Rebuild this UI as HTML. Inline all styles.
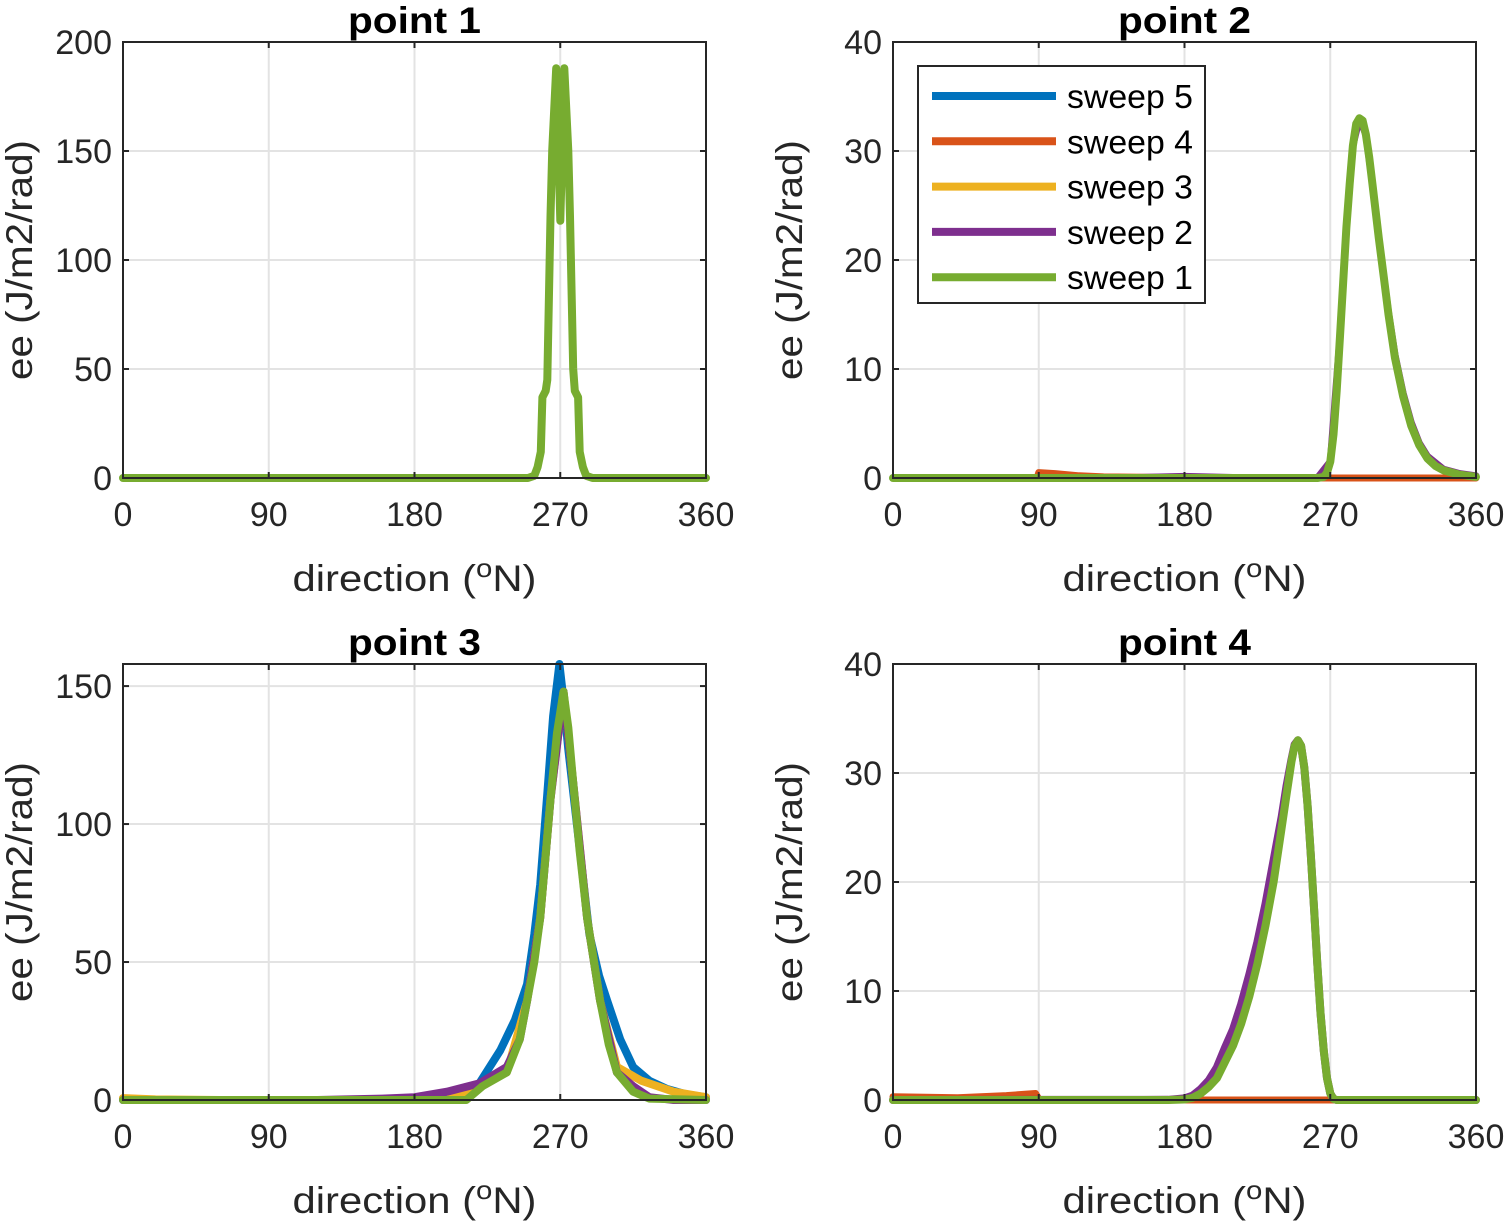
<!DOCTYPE html>
<html><head><meta charset="utf-8"><style>
body{margin:0;background:#fff;}
svg{display:block;font-family:"Liberation Sans",Arial,sans-serif;}
</style></head><body>
<svg id="chart" width="1507" height="1223" viewBox="0 0 1507 1223"></svg>
<script>
// ---------- data ----------
const xTicks=[0,90,180,270,360];
const p1YTicks=[0,50,100,150,200];
const p2YTicks=[0,10,20,30,40];
const p3YTicks=[0,50,100,150];
const p4YTicks=[0,10,20,30,40];
const seriesNames=["sweep 5","sweep 4","sweep 3","sweep 2","sweep 1"];
const seriesColors=["#0072BD","#D95319","#EDB120","#7E2F8E","#77AC30"];

// point 1
const p1Dir=[0,250,254,256,258,259,261,262,264,265,267.5,270,272.5,275,276,278,279,281,282,284,286,290,360];
const p1Val=[0,0,1,5,12,37,40,45,120,150,188,118,188,150,120,50,40,37,12,5,1,0,0];

// point 2
const p2Dir=[0,262,266,268,270,272,274,276,278,280,282,284,286,288,290,292,294,296,298,300,303,306,310,315,320,325,330,335,340,350,360];
const p2Val=[0,0,0.1,0.5,1.5,4,8,13,18,23,27,30.5,32.5,33,32.8,31.5,29.5,27,24.5,22,18.5,15,11,7.5,4.8,3,1.8,1.1,0.7,0.3,0.1];
const p2OrangeDir=[0,89,90,100,115,130,180,262,360];
const p2OrangeVal=[0,0,0.5,0.4,0.2,0.1,0.05,0,0];
const p2PurpleDir=[0,150,180,210,262,270,276,280,284,288,292,296,300,306,310,315,320,325,330,340,350,360];
const p2PurpleVal=[0,0.05,0.15,0.05,0,1.5,13,23,30.5,33,31.5,27,22,15.2,11.3,7.8,5.1,3.2,2,0.8,0.4,0.2];

// point 3
const p3BlueDir=[0,150,200,220,233,242,249.5,254,257.6,262,265.6,269.5,272,275,282,288,294,299,307,315,325,336,348,360];
const p3BlueVal=[0,0,1,6,18,29,42,60,78,111,139,158,145,127,91,60,45,36,22,12,7,4,2,1];
const p3GreenDir=[0,212,222,237,245,249.5,254,257.6,264,268,272,275,278,282,286.6,294.6,300,305,315,325,360];
const p3GreenVal=[0,0,5,10,22,36,50,66,109,133,148,135,115,90,66,36,20,10,3,0.5,0];
const p3PurpleDir=[0,120,160,180,200,220,237,245,249.5,257.6,264,272,278,286.6,294.6,305,315,325,340,360];
const p3PurpleVal=[0,0,0.5,1,3,6,12,22,36,66,109,148,115,66,36,10,5,1,0,0];
const p3YellowDir=[0,20,60,200,237,249.5,257.6,264,272,278,286.6,294.6,305,320,340,360];
const p3YellowVal=[0.7,0.2,0,0,10,36,66,109,148,115,66,36,12,7,3,1];

// point 4
const p4Dir=[0,170,180,185,190,195,200,205,210,215,220,225,230,235,240,243,246,248,250,252,254,256,258,260,262,264,266,268,270,272,274,360];
const p4Val=[0,0,0.05,0.2,0.6,1.2,2,3.5,5,7,9.5,12.5,16,20,25,28,31,32.5,33,32.5,30.5,27,22.5,17.5,12.5,8,4.5,2,0.6,0.1,0,0];
const p4OrangeDir=[0,40,70,88,90,92,360];
const p4OrangeVal=[0.3,0.2,0.4,0.6,0.1,0,0];
const p4PurpleDir=[0,170,180,185,190,195,200,205,210,215,220,225,230,235,240,243,246,248,250,252,254,256,258,260,262,264,266,268,270,272,274,360];
const p4PurpleVal=[0,0.02,0.15,0.4,1,1.8,3,4.8,6.5,8.8,11.5,14.5,18,22,26,28.8,31.2,32.6,33,32.5,30.5,27,22.5,17.5,12.5,8,4.5,2,0.6,0.1,0,0];

// ---------- drawing ----------
const svg=document.getElementById('chart');
const NS="http://www.w3.org/2000/svg";
function mk(tag,attrs,parent){const e=document.createElementNS(NS,tag);for(const k in attrs)e.setAttribute(k,attrs[k]);(parent||svg).appendChild(e);return e;}

function panel(name,x0,y0,w,h,ymax,yTicks,title,series){
  const g=mk('g',{});
  
  
  const sx=d=>x0+d/360*w;
  const sy=v=>y0+h-Math.min(v,ymax)/ymax*h;
  mk('rect',{x:x0,y:y0,width:w,height:h,fill:'#fff'},g);
  xTicks.forEach(t=>{
    const gl=mk('line',{x1:sx(t),x2:sx(t),y1:y0,y2:y0+h,stroke:'#e3e3e3','stroke-width':2},g);
    
    
  });
  yTicks.forEach(t=>{
    const gl=mk('line',{x1:x0,x2:x0+w,y1:sy(t),y2:sy(t),stroke:'#e3e3e3','stroke-width':2},g);
    
    
  });
  series.forEach(s=>{
    let d='';
    s.dir.forEach((dv,i)=>{d+=(i?'L':'M')+sx(dv).toFixed(1)+','+sy(s.val[i]).toFixed(1);});
    const p=mk('path',{d:d,fill:'none',stroke:s.color,'stroke-width':s.w||8,'stroke-linejoin':'round','stroke-linecap':'round'},g);
    
    
  });
  mk('rect',{x:x0,y:y0,width:w,height:h,fill:'none',stroke:'#262626','stroke-width':2},g);
  xTicks.forEach(t=>{
    mk('line',{x1:sx(t),x2:sx(t),y1:y0+h,y2:y0+h-6,stroke:'#262626','stroke-width':2},g);
    mk('line',{x1:sx(t),x2:sx(t),y1:y0,y2:y0+6,stroke:'#262626','stroke-width':2},g);
    const tx=mk('text',{x:sx(t),y:y0+h+48,'font-size':34,'text-anchor':'middle',fill:'#262626'},g);
    tx.textContent=t;
    
    
  });
  yTicks.forEach(t=>{
    mk('line',{x1:x0,x2:x0+6,y1:sy(t),y2:sy(t),stroke:'#262626','stroke-width':2},g);
    mk('line',{x1:x0+w,x2:x0+w-6,y1:sy(t),y2:sy(t),stroke:'#262626','stroke-width':2},g);
    const tx=mk('text',{x:x0-11,y:sy(t)+12,'font-size':34,'text-anchor':'end',fill:'#262626'},g);
    tx.textContent=t;
    
    
  });
  const xl=mk('text',{x:x0+w/2,y:y0+h+113,'font-size':37,'text-anchor':'middle',fill:'#262626',textLength:244,lengthAdjust:'spacingAndGlyphs'},g);
  xl.innerHTML='direction (<tspan dy="-14" font-size="26">o</tspan><tspan dy="14">N)</tspan>';
  
  
  const yl=mk('text',{x:0,y:0,'font-size':37,'text-anchor':'middle',fill:'#262626',textLength:240,lengthAdjust:'spacingAndGlyphs',transform:`translate(${x0-91},${y0+h/2}) rotate(-90)`},g);
  yl.textContent='ee (J/m2/rad)';
  
  
  const tt=mk('text',{x:x0+w/2,y:y0-9,'font-size':37,'font-weight':'bold','text-anchor':'middle',fill:'#000',textLength:133,lengthAdjust:'spacingAndGlyphs'},g);
  tt.textContent=title;
  
  
}

panel('panel-point-1',123,42,583,436,200,p1YTicks,'point 1',[
  {name:'sweep-1-line',color:seriesColors[4],dir:p1Dir,val:p1Val}
]);
panel('panel-point-2',893,42,583,436,40,p2YTicks,'point 2',[
  {name:'sweep-4-line',color:seriesColors[1],dir:p2OrangeDir,val:p2OrangeVal,w:7},
  {name:'sweep-2-line',color:seriesColors[3],dir:p2PurpleDir,val:p2PurpleVal,w:7},
  {name:'sweep-1-line',color:seriesColors[4],dir:p2Dir,val:p2Val}
]);
panel('panel-point-3',123,664,583,436,158,p3YTicks,'point 3',[
  {name:'sweep-5-line',color:seriesColors[0],dir:p3BlueDir,val:p3BlueVal},
  {name:'sweep-3-line',color:seriesColors[2],dir:p3YellowDir,val:p3YellowVal},
  {name:'sweep-2-line',color:seriesColors[3],dir:p3PurpleDir,val:p3PurpleVal},
  {name:'sweep-1-line',color:seriesColors[4],dir:p3GreenDir,val:p3GreenVal}
]);
panel('panel-point-4',893,664,583,436,40,p4YTicks,'point 4',[
  {name:'sweep-4-line',color:seriesColors[1],dir:p4OrangeDir,val:p4OrangeVal,w:7},
  {name:'sweep-2-line',color:seriesColors[3],dir:p4PurpleDir,val:p4PurpleVal},
  {name:'sweep-1-line',color:seriesColors[4],dir:p4Dir,val:p4Val}
]);

// legend
const lg=mk('g',{});


mk('rect',{x:918,y:66,width:287,height:237,fill:'#fff',stroke:'#262626','stroke-width':2},lg);
seriesNames.forEach((n,i)=>{
  const y=96+i*45.3;
  const ln=mk('line',{x1:932,x2:1056,y1:y,y2:y,stroke:seriesColors[i],'stroke-width':8},lg);
  
  
  const t=mk('text',{x:1067,y:y+12,'font-size':33,fill:'#000',textLength:126,lengthAdjust:'spacingAndGlyphs'},lg);
  t.textContent=n;
  
  
});
</script>
</body></html>
